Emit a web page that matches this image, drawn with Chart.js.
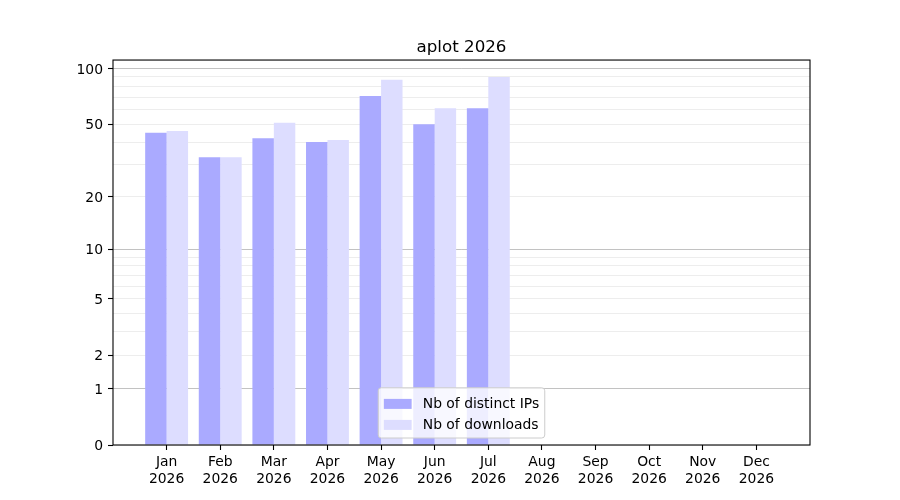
<!DOCTYPE html>
<html>
<head>
<meta charset="utf-8">
<script src="https://cdn.jsdelivr.net/npm/chart.js@4"></script>
<style>
  html, body { margin: 0; padding: 0; background: #fff; }
  #wrap { width: 900px; height: 500px; }
</style>
</head>
<body>
<div id="wrap"><canvas id="aplotChart"></canvas></div>
<script>
// data
const months = ['Jan', 'Feb', 'Mar', 'Apr', 'May', 'Jun', 'Jul', 'Aug', 'Sep', 'Oct', 'Nov', 'Dec'];
const year = '2026';
const distinctIps = [45, 33, 42, 40, 71, 50, 61, 0, 0, 0, 0, 0];
const downloads = [46, 33, 51, 41, 87, 61, 90, 0, 0, 0, 0, 0];
const yLabelled = [0, 1, 2, 5, 10, 20, 50, 100];
const yMajor = [1, 10, 100];
const yMinor = [3, 4, 6, 7, 8, 9, 30, 40, 60, 70, 80, 90];

// y axis scaled as log10(1 + v), so that 0 can sit at the bottom
class Log1pScale extends Chart.LinearScale {
    buildTicks() {
        const values = yLabelled.concat(yMinor).sort((a, b) => a - b);
        return values.filter(v => v >= this.min && v <= this.max).map(v => ({ value: v }));
    }
    configure() {
        super.configure();
        this._startValue = Math.log10(1 + this.min);
        this._valueRange = Math.log10(1 + this.max) - this._startValue;
    }
    getPixelForValue(value) {
        if (value === null || value === undefined || isNaN(value)) return NaN;
        return this.getPixelForDecimal((Math.log10(1 + value) - this._startValue) / this._valueRange);
    }
    getValueForPixel(pixel) {
        return Math.pow(10, this._startValue + this.getDecimalForPixel(pixel) * this._valueRange) - 1;
    }
}
Log1pScale.id = 'log1p';
Log1pScale.defaults = {};
Chart.register(Log1pScale);

// matplotlib-like legend box inside the plot + frame on all four sides
const boxLegend = {
    id: 'boxLegend',
    afterDraw(chart) {
        const ctx = chart.ctx;
        const area = chart.chartArea;
        const fs = 13.9;
        ctx.save();
        ctx.strokeStyle = '#000';
        ctx.lineWidth = 1.1;
        ctx.strokeRect(area.left, area.top, area.right - area.left, area.bottom - area.top);

        ctx.font = fs + 'px "DejaVu Sans"';
        const items = chart.data.datasets;
        const textW = Math.max(...items.map(d => ctx.measureText(d.label).width));
        const pad = 5.6, handle = 27.8, gap = 11.1, rowH = 21;
        const w = pad * 2 + handle + gap + textW;
        const h = pad * 2 + rowH * items.length - 3;
        const x = (area.left + area.right) / 2 - w / 2;
        const y = area.bottom - 7 - h;
        ctx.beginPath();
        ctx.roundRect(x, y, w, h, 3);
        ctx.fillStyle = 'rgba(255,255,255,0.8)';
        ctx.fill();
        ctx.strokeStyle = '#cccccc';
        ctx.lineWidth = 1;
        ctx.stroke();
        ctx.textBaseline = 'middle';
        items.forEach((d, i) => {
            const cy = y + pad + 5.5 + i * rowH + 5;
            ctx.fillStyle = d.backgroundColor;
            ctx.fillRect(x + pad, cy - 5, handle, 10);
            ctx.fillStyle = '#000';
            ctx.fillText(d.label, x + pad + handle + gap, cy);
        });
        ctx.restore();
    }
};

Chart.defaults.font.family = '"DejaVu Sans"';
Chart.defaults.font.size = 13.9;
Chart.defaults.color = '#000';

new Chart(document.getElementById('aplotChart'), {
    type: 'bar',
    data: {
        datasets: [{
            label: 'Nb of distinct IPs',
            data: distinctIps.map((v, i) => ({ x: i, y: v })),
            backgroundColor: '#aaaaff'
        }, {
            label: 'Nb of downloads',
            data: downloads.map((v, i) => ({ x: i, y: v })),
            backgroundColor: '#ddddff'
        }]
    },
    options: {
        responsive: true,
        maintainAspectRatio: false,
        animation: false,
        devicePixelRatio: 1,
        layout: { padding: { left: 0, right: 90, top: 0, bottom: 0 } },
        datasets: { bar: { barPercentage: 1, categoryPercentage: 0.8 } },
        plugins: {
            legend: { display: false },
            tooltip: { enabled: false },
            title: {
                display: true,
                fullSize: false,
                text: 'aplot ' + year,
                font: { size: 16.7, weight: 'normal' },
                padding: { top: 38, bottom: 2 }
            }
        },
        scales: {
            x: {
                type: 'linear',
                min: -1,
                max: 12,
                offset: false,
                border: { display: false },
                grid: { offset: false, drawOnChartArea: false, tickLength: 5, tickColor: '#000', tickWidth: 1.1 },
                afterBuildTicks: axis => { axis.ticks = months.map((m, i) => ({ value: i })); },
                afterFit: axis => { axis.height = 55; },
                ticks: {
                    autoSkip: false,
                    maxRotation: 0,
                    padding: 4,
                    callback: v => [months[v], year]
                }
            },
            y: {
                type: 'log1p',
                min: 0,
                max: 111,
                z: 1,
                border: { display: false },
                grid: {
                    lineWidth: 1,
                    color: c => yMajor.includes(c.tick.value) ? 'rgba(0,0,0,0.24)' : 'rgba(0,0,0,0.07)',
                    tickLength: 5,
                    tickWidth: 1.1,
                    tickColor: c => yLabelled.includes(c.tick.value) ? '#000' : 'rgba(0,0,0,0)'
                },
                afterFit: axis => { axis.width = 113; },
                ticks: {
                    autoSkip: false,
                    padding: 5,
                    labelOffset: 1.5,
                    callback: v => yLabelled.includes(v) ? String(v) : ''
                }
            }
        }
    },
    plugins: [boxLegend]
});
</script>
</body>
</html>
